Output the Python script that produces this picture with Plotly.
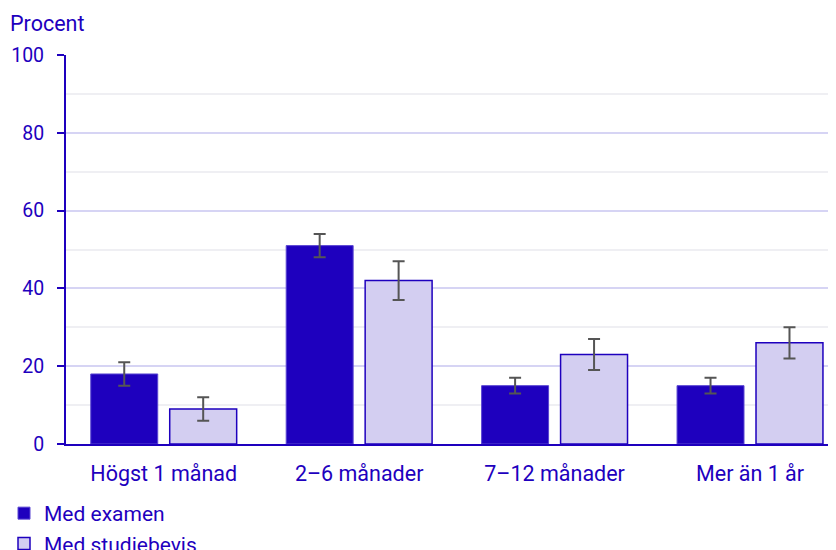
import plotly.graph_objects as go

categories = ["Högst 1 månad", "2–6 månader", "7–12 månader", "Mer än 1 år"]
examen = [18, 51, 15, 15]
examen_err = [3, 3, 2, 2]
studiebevis = [9, 42, 23, 26]
studiebevis_err = [3, 5, 4, 4]
series_names = ["Med examen", "Med studiebevis"]
y_ticks = [0, 20, 40, 60, 80, 100]

BLUE = "#1e00be"
BAR_EDGE = "#5a46d2"
LIGHT = "#d3cef1"
ERR = "#555555"
FONT = "Roboto"

# page has an 8px body margin, so the figure is 8px smaller and shifted
W, H = 828, 542
L, R, T, B = 58, 0, 47, 106
PW, PH = W - L - R, H - T - B

fig = go.Figure()
fig.add_trace(go.Bar(
    x=categories, y=examen, name=series_names[0],
    marker=dict(color=BLUE, line=dict(color=BAR_EDGE, width=1)),
    error_y=dict(type="data", array=examen_err, color=ERR, thickness=2, width=6),
))
fig.add_trace(go.Bar(
    x=categories, y=studiebevis, name=series_names[1],
    marker=dict(color=LIGHT, line=dict(color=BLUE, width=1.5)),
    error_y=dict(type="data", array=studiebevis_err, color=ERR, thickness=2, width=6),
))

fig.update_layout(
    width=W, height=H,
    margin=dict(l=L, r=R, t=T, b=B, autoexpand=False),
    paper_bgcolor="white", plot_bgcolor="white",
    barmode="group", bargap=0.192, bargroupgap=0.152,
    font=dict(family=FONT, size=21.5, color=BLUE),
    showlegend=True,
    legend=dict(
        orientation="v", xref="paper", yref="paper",
        x=(-4 - L) / PW, y=(H - B - 485) / PH, xanchor="left", yanchor="top",
        font=dict(size=21, color=BLUE), itemwidth=30,
        tracegroupgap=0, bgcolor="rgba(0,0,0,0)",
    ),
    annotations=[dict(
        text="Procent", xref="paper", yref="paper",
        x=(0 - L) / PW, y=(H - B - 16) / PH, xanchor="left", yanchor="middle",
        showarrow=False, font=dict(size=21.5, color=BLUE),
    )],
)
fig.update_xaxes(
    range=[-0.5, 3.44],
    showline=True, linecolor=BLUE, linewidth=2,
    ticks="", showgrid=False, ticklabelstandoff=9,
    tickfont=dict(size=21.5, color=BLUE),
)
fig.update_yaxes(
    range=[0, 100], tickvals=y_ticks, showline=True, linecolor=BLUE, linewidth=2,
    ticks="outside", ticklen=7, tickcolor=BLUE, tickwidth=2,
    showgrid=True, gridcolor="#d6d4f4", gridwidth=2,
    minor=dict(dtick=10, showgrid=True, gridcolor="#efeff3", gridwidth=2),
    zeroline=False, ticklabelstandoff=9,
    tickfont=dict(size=19.5, color=BLUE),
)

fig.write_html("out.html")
